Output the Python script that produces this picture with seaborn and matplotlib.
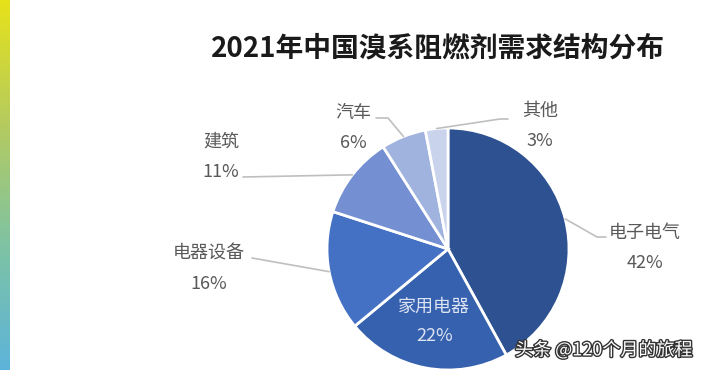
import numpy as np
import pandas as pd
import matplotlib
matplotlib.use("Agg")
import matplotlib.pyplot as plt
import matplotlib.patheffects as pe
from matplotlib.colors import LinearSegmentedColormap
import seaborn as sns

# data
title = "2021年中国溴系阻燃剂需求结构分布"
categories = ["电子电气", "家用电器", "电器设备", "建筑", "汽车", "其他"]
shares = [42, 22, 16, 11, 6, 3]
colors = ["#2E5191", "#3661AE", "#4471C4", "#7490D2", "#A0B2DE", "#C9D3EC"]

# label layout (pixel coords, y from top): elbow point, text anchor
label_layout = {
    "电子电气": dict(elbow=[(597, 237), (606, 237)], text=(645, 248)),
    "电器设备": dict(elbow=[(252, 258)], text=(209, 269)),
    "建筑": dict(elbow=[(243, 177)], text=(221, 157)),
    "汽车": dict(elbow=[(388, 118), (376, 118)], text=(353, 128)),
    "其他": dict(elbow=[(500, 119), (508, 119)], text=(540, 126)),
}

W, H = 704, 370
cx, cy, R = 448, 249, 121

sns.set_theme(style="white")
plt.rcParams["font.family"] = ["Noto Sans CJK SC", "DejaVu Sans"]

df = pd.DataFrame({"cat": categories, "share": shares})

fig = plt.figure(figsize=(W / 100, H / 100), dpi=100)
ax = fig.add_axes([0, 0, 1, 1])

def py(y):
    return H - y

# gradient strip on the left
cmap = LinearSegmentedColormap.from_list("strip", ["#E6E21A", "#B5CB5E", "#7EC3A4", "#5DB4DA"])
grad = np.linspace(0, 1, 256).reshape(-1, 1)
ax.imshow(grad, cmap=cmap, aspect="auto", extent=(0, 10, 0, H), origin="upper", zorder=0)

wedges, _ = ax.pie(df["share"], colors=colors, startangle=90, counterclock=False,
                   center=(cx, py(cy)), radius=R, frame=True,
                   wedgeprops=dict(edgecolor="white", linewidth=2))
ax.set_xlim(0, W)
ax.set_ylim(0, H)
ax.set_aspect("equal")
ax.axis("off")

gray = "#595959"
for w, cat, val in zip(wedges, df["cat"], df["share"]):
    mid = np.deg2rad((w.theta1 + w.theta2) / 2)
    if cat == "家用电器":
        tx = cx + 0.6 * R * np.cos(mid)
        ty = py(cy) + 0.6 * R * np.sin(mid)
        ax.text(tx, ty + 14, cat, ha="center", va="center", fontsize=13, color="#DCE3F2")
        ax.text(tx, ty - 16, f"{val}%", ha="center", va="center", fontsize=13, color="#DCE3F2")
        continue
    lay = label_layout[cat]
    x0 = cx + R * np.cos(mid)
    y0 = py(cy) + R * np.sin(mid)
    xs = [x0] + [p[0] for p in lay["elbow"]]
    ys = [y0] + [py(p[1]) for p in lay["elbow"]]
    ax.plot(xs, ys, color="#BFBFBF", lw=1.2, zorder=1)
    tx, ty = lay["text"]
    ax.text(tx, py(ty) + 15, cat, ha="center", va="center", fontsize=13, color=gray)
    ax.text(tx, py(ty) - 15, f"{val}%", ha="center", va="center", fontsize=13, color=gray)

ax.text(438, py(48), title, ha="center", va="center", fontsize=20,
        fontweight="bold", color="#1A1A1A")

# watermark
ax.text(515, py(350), "头条 @120个月的旅程", ha="left", va="center", fontsize=13,
        color="white", path_effects=[pe.withStroke(linewidth=2, foreground="#333333")])

fig.savefig("out.png", dpi=100)
